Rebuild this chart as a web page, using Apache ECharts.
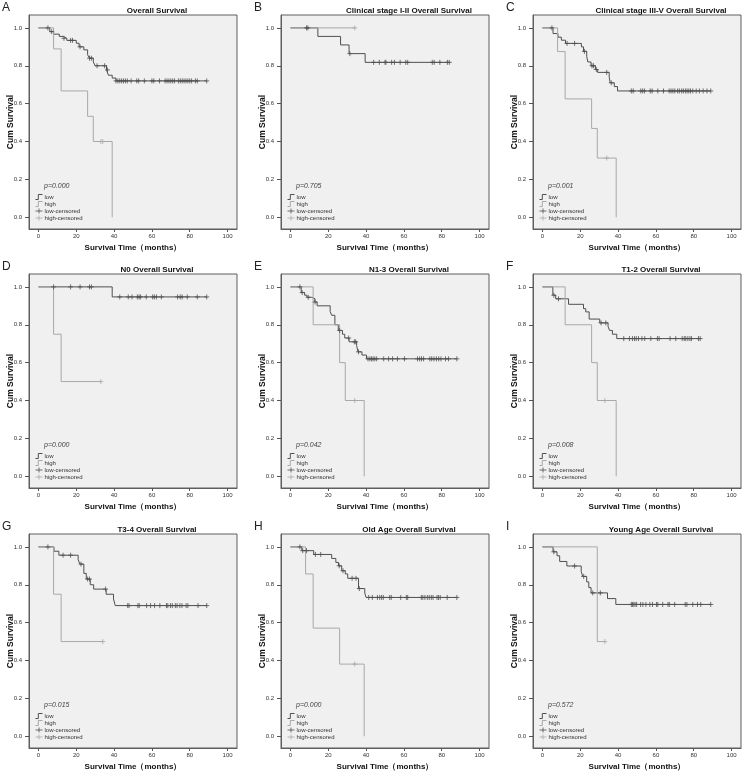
<!DOCTYPE html>
<html><head><meta charset="utf-8">
<script src="https://cdn.jsdelivr.net/npm/echarts@6/dist/echarts.min.js"></script>
<style>html,body{margin:0;padding:0;background:#fff}#c{width:750px;height:775px}</style>
</head><body><div id="c"></div>
<script>
// ---- text ----
const panelLetters = ['A','B','C','D','E','F','G','H','I'];
const panelTitles = ['Overall Survival','Clinical stage I-II Overall Survival','Clinical stage III-V Overall Survival',
  'N0 Overall Survival','N1-3 Overall Survival','T1-2 Overall Survival',
  'T3-4 Overall Survival','Old Age Overall Survival','Young Age Overall Survival'];
const pValues = ['p=0.000','p=0.705','p=0.001','p=0.000','p=0.042','p=0.008','p=0.015','p=0.000','p=0.572'];
const seriesNames = ['low','high','low-censored','high-censored'];
const xTicks = [0,20,40,60,80,100];
const yTicks = [0,0.2,0.4,0.6,0.8,1.0];

// ---- A ----
const A_lowT = [0,6,8,11,13,15,20,21.5,24,26,27,29,30,36,37,39,41,89];
const A_lowS = [1,0.98,0.967,0.955,0.945,0.934,0.919,0.90,0.884,0.858,0.84,0.82,0.80,0.778,0.75,0.735,0.72,0.72];
const A_lowC = [5,7,13.5,17,18,22,27,28,31,35,36.5,41,42,43,44,45,46,47,49,52,53,56,60,61,64,67,68,69,70,71,72,74,75,76,77,78,79,80,81,83,84,89];
const A_highT = [0,8,12,26,29,39];
const A_highS = [1,0.889,0.667,0.533,0.40,0];
const A_highC = [33,34];
// ---- B ----
const B_lowT = [0,14.5,26.5,31,39.5,84];
const B_lowS = [1,0.955,0.91,0.864,0.818,0.818];
const B_lowC = [8.5,9.2,31.4,44,47,50,50.5,53.5,55,58,61,62,75,76,79,83,84];
const B_highT = [0,34];
const B_highS = [1,1];
const B_highC = [34];
// ---- C ----
const C_lowT = [0,5.6,8.2,10,12.2,20.6,21.7,23.4,24,25.7,28,29.2,35.3,35.8,38,39.7,89];
const C_lowS = [1,0.97,0.951,0.935,0.918,0.90,0.876,0.85,0.82,0.80,0.78,0.765,0.74,0.71,0.69,0.667,0.667];
const C_lowC = [5,13,17,22.2,26.2,27,28.5,34,36.4,47,48,52,53,54,57,58,61,64,67,68,69,70,71.5,72.4,73.6,74.5,75.6,76.5,77.4,78.3,79.5,81.3,83,85,87,89];
const C_highT = [0,8,12,26,29,39];
const C_highS = [1,0.875,0.625,0.469,0.3125,0];
const C_highC = [34];
// ---- D ----
const D_lowT = [0,39,89];
const D_lowS = [1,0.947,0.947];
const D_lowC = [8,17,22,27,28,43,47.5,49.5,52.3,53.2,54,57,60.4,61.3,62.4,65,73.6,75,76,78.7,84,89];
const D_highT = [0,8,12,33];
const D_highS = [1,0.75,0.5,0.5];
const D_highC = [33];
// ---- E ----
const E_lowT = [0,5.7,7.5,8.7,11.1,12.9,14.1,21,21.8,23.5,25.3,27.5,28.7,31,35,35.7,37.8,40.2,88];
const E_lowS = [1,0.97,0.956,0.945,0.938,0.92,0.90,0.87,0.85,0.80,0.77,0.75,0.73,0.71,0.69,0.657,0.64,0.62,0.62];
const E_lowC = [5,6.2,9.4,13,26,30.8,33.8,34.5,36,41,42,42.9,43.7,44.6,45.6,49.3,51.9,54,56.6,60.3,67.2,68.3,69.3,70.4,73.7,74.7,75.9,77.2,78.4,79.6,82,83.6,88];
const E_highT = [0,12,26,29,39];
const E_highS = [1,0.8,0.6,0.4,0];
const E_highC = [34];
// ---- F ----
const F_lowT = [0,5.5,7,13.8,21.7,22.9,24.7,30.3,34.7,35.5,37,39.3,83];
const F_lowS = [1,0.956,0.937,0.908,0.885,0.868,0.83,0.81,0.79,0.77,0.75,0.727,0.727];
const F_lowC = [6,8.5,31,33.5,43,46,47.6,48.7,49.6,50.8,52.6,54.1,57.3,60.8,61.7,67.5,70.5,73.9,75,75.8,76.9,78,78.8,82.5,83.4];
const F_highT = [0,12,26,29,39];
const F_highS = [1,0.8,0.6,0.4,0];
const F_highC = [33];
// ---- G ----
const G_lowT = [0,8.2,10.8,21,22,24,25.3,27.4,29.2,35.8,39.7,40.6,89];
const G_lowS = [1,0.977,0.956,0.932,0.909,0.86,0.83,0.80,0.777,0.75,0.725,0.69,0.69];
const G_lowC = [5,13,17,22.5,26,27,35.5,47.2,47.9,52.6,53.3,57.2,59.3,61.4,64.2,67.7,68.4,69.8,70.8,72.4,73.3,74.8,75.9,78.1,79,84.4,89];
const G_highT = [0,8,12,34];
const G_highS = [1,0.75,0.5,0.5];
const G_highC = [34];
// ---- H ----
const H_lowT = [0,6,12.3,21.8,24,25.4,27.1,29,30.3,36,39.3,40,88];
const H_lowS = [1,0.98,0.96,0.939,0.918,0.90,0.874,0.857,0.834,0.78,0.756,0.733,0.733];
const H_lowC = [5,6.5,8.5,13.2,16,25.8,27.8,32.6,34.7,36.4,41.4,43.3,46,47.2,48.2,49.1,52.5,53.3,58.3,61.3,62,69.2,70,71.1,72.4,73.4,74.5,75.4,77.5,78.3,79.2,82.9,88];
const H_highT = [0,8,12,26,39];
const H_highS = [1,0.857,0.571,0.381,0];
const H_highC = [34];
// ---- I ----
const I_lowT = [0,5.6,7.7,9.1,12.9,20.5,21.3,23.4,24.5,25.7,34.4,38.8,89];
const I_lowS = [1,0.974,0.953,0.923,0.899,0.87,0.844,0.815,0.785,0.757,0.727,0.696,0.696];
const I_lowC = [6,17,21.8,26.6,30.6,47,47.6,48.3,49,49.8,51.9,53.1,54.7,56.8,58.2,60.3,61,63.6,66.4,67.1,69.9,75.5,76.4,79.5,82,83.7,89];
const I_highT = [0,29,33];
const I_highS = [1,0.5,0.5];
const I_highC = [33];

const panels = [
  [A_lowT,A_lowS,A_lowC,A_highT,A_highS,A_highC],
  [B_lowT,B_lowS,B_lowC,B_highT,B_highS,B_highC],
  [C_lowT,C_lowS,C_lowC,C_highT,C_highS,C_highC],
  [D_lowT,D_lowS,D_lowC,D_highT,D_highS,D_highC],
  [E_lowT,E_lowS,E_lowC,E_highT,E_highS,E_highC],
  [F_lowT,F_lowS,F_lowC,F_highT,F_highS,F_highC],
  [G_lowT,G_lowS,G_lowC,G_highT,G_highS,G_highC],
  [H_lowT,H_lowS,H_lowC,H_highT,H_highS,H_highC],
  [I_lowT,I_lowS,I_lowC,I_highT,I_highS,I_highC]
];

// ---- layout / style ----
const colLeft = [29, 281, 533];
const rowTop = [15, 274, 534];
const GW = 208, GH = 214;
const X_MIN = -5, X_MAX = 105, Y_MIN = -0.062, Y_MAX = 1.068;
const LOW_C = '#4f4f4f', HIGH_C = '#a8a8a8';
const FONT = '"Liberation Sans", Arial, sans-serif';
const STEP_ICON = 'path://M0,9L4,9L4,1L10,1';
const CENS_ICON = 'path://M0,5L10,5M5,0L5,10';

function survAt(T, S, t) {
  let v = S[0];
  for (let k = 0; k < T.length; k++) { if (T[k] <= t) v = S[k]; }
  return v;
}

const grid = [], xAxis = [], yAxis = [], series = [], legend = [], graphic = [];
panels.forEach((p, i) => {
  const [lT, lS, lC, hT, hS, hC] = p;
  const left = colLeft[i % 3], top = rowTop[Math.floor(i / 3)];
  grid.push({ left, top, width: GW, height: GH, show: true, backgroundColor: '#f0f0f0',
    borderColor: '#5e5e5e', borderWidth: 1, containLabel: false });
  xAxis.push({ type: 'value', gridIndex: i, min: X_MIN, max: X_MAX,
    axisLine: { show: true, onZero: false, lineStyle: { color: '#5e5e5e' } },
    axisTick: { show: true, length: 3, customValues: xTicks, lineStyle: { color: '#555' } },
    axisLabel: { customValues: xTicks, fontSize: 6, color: '#333', margin: 4, fontFamily: FONT },
    splitLine: { show: false },
    name: 'Survival Time（months）', nameLocation: 'middle', nameGap: 15, nameMoveOverlap: false,
    nameTextStyle: { fontSize: 8, fontWeight: 'bold', color: '#111', fontFamily: FONT } });
  yAxis.push({ type: 'value', gridIndex: i, min: Y_MIN, max: Y_MAX,
    axisLine: { show: true, onZero: false, lineStyle: { color: '#5e5e5e' } },
    axisTick: { show: true, length: 4, customValues: yTicks, lineStyle: { color: '#555' } },
    axisLabel: { customValues: yTicks, fontSize: 6, color: '#333', margin: 7, fontFamily: FONT,
      formatter: v => Number(v).toFixed(1) },
    splitLine: { show: false },
    name: 'Cum Survival', nameLocation: 'middle', nameGap: 14, nameMoveOverlap: false,
    nameTextStyle: { fontSize: 8.5, fontWeight: 'bold', color: '#111', fontFamily: FONT } });
  series.push({ name: 'low', type: 'line', step: 'end', xAxisIndex: i, yAxisIndex: i,
    data: lT.map((t, k) => [t, lS[k]]), showSymbol: false, lineStyle: { color: LOW_C, width: 1 },
    itemStyle: { color: LOW_C }, animation: false, silent: true });
  series.push({ name: 'high', type: 'line', step: 'end', xAxisIndex: i, yAxisIndex: i,
    data: hT.map((t, k) => [t, hS[k]]), showSymbol: false, lineStyle: { color: HIGH_C, width: 1 },
    itemStyle: { color: HIGH_C }, animation: false, silent: true });
  series.push({ name: 'low-censored', type: 'scatter', xAxisIndex: i, yAxisIndex: i,
    data: lC.map(t => [t, survAt(lT, lS, t)]), symbol: CENS_ICON, symbolSize: [5, 5],
    itemStyle: { color: 'none', borderColor: LOW_C, borderWidth: 1 }, animation: false, silent: true, z: 3 });
  series.push({ name: 'high-censored', type: 'scatter', xAxisIndex: i, yAxisIndex: i,
    data: hC.map(t => [t, survAt(hT, hS, t)]), symbol: CENS_ICON, symbolSize: [5, 5],
    itemStyle: { color: 'none', borderColor: HIGH_C, borderWidth: 1 }, animation: false, silent: true, z: 3 });
  legend.push({ orient: 'vertical', left: left + 4, top: top + 177, padding: 0,
    itemWidth: 7, itemHeight: 5, itemGap: -3, symbolKeepAspect: false, selectedMode: false,
    textStyle: { fontSize: 6, color: '#333', fontFamily: FONT, lineHeight: 6, padding: [0, 0, 0, -3] },
    data: [
      { name: 'low', icon: STEP_ICON, itemStyle: { color: 'none', borderColor: LOW_C, borderWidth: 1 } },
      { name: 'high', icon: STEP_ICON, itemStyle: { color: 'none', borderColor: HIGH_C, borderWidth: 1 } },
      { name: 'low-censored', icon: CENS_ICON, itemStyle: { color: 'none', borderColor: LOW_C, borderWidth: 1 } },
      { name: 'high-censored', icon: CENS_ICON, itemStyle: { color: 'none', borderColor: HIGH_C, borderWidth: 1 } }
    ] });
  graphic.push({ type: 'text', x: left + GW / 2 + 24, y: top - 4, silent: true,
    style: { text: panelTitles[i], align: 'center', verticalAlign: 'middle', fill: '#111',
      font: 'bold 8px ' + FONT } });
  graphic.push({ type: 'text', x: left - 27, y: top - 7, silent: true,
    style: { text: panelLetters[i], align: 'left', verticalAlign: 'middle', fill: '#222',
      font: '12px ' + FONT } });
  graphic.push({ type: 'text', x: left + 15, y: top + 171, silent: true,
    style: { text: pValues[i], align: 'left', verticalAlign: 'middle', fill: '#444',
      font: 'italic 7px ' + FONT } });
});

const chart = echarts.init(document.getElementById('c'), null, { renderer: 'canvas' });
chart.setOption({ backgroundColor: '#ffffff', animation: false, grid, xAxis, yAxis, series, legend, graphic });
</script>
</body></html>
